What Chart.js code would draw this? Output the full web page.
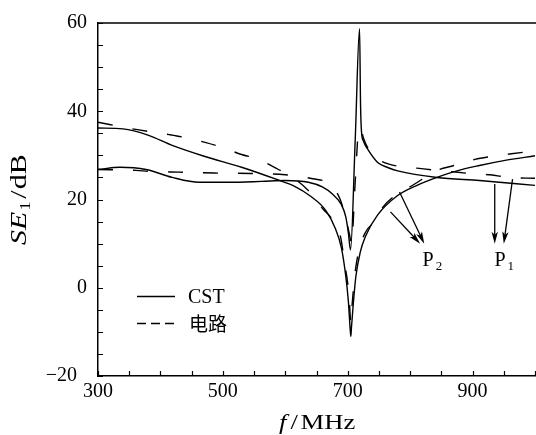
<!DOCTYPE html>
<html><head><meta charset="utf-8">
<style>
html,body{margin:0;padding:0;background:#fff;overflow:hidden;width:536px;height:435px}
#wrap{width:536px;height:435px;overflow:hidden;position:relative}
canvas{display:block}
</style>
<script src="https://cdn.jsdelivr.net/npm/chart.js@4.4.1/dist/chart.umd.min.js"></script>
</head><body><div id="wrap"><canvas id="c" width="539" height="435"></canvas></div>
<script>
// ---- axis settings ----
const xMin = 300, xMax = 1000, yMin = -20, yMax = 60;
const xTickValues = [300,350,400,450,500,550,600,650,700,750,800,850,900,950,1000];
const xLabelValues = [300,500,700,900];
const yTickValues = [-20,-15,-10,-5,0,5,10,15,20,25,30,35,40,45,50,55,60];
const yLabelValues = [-20,0,20,40,60];

// ---- P2 curves (deep dip) ----
const cstP2Freq = [300,340,380,420,470,530,585,615,640,665,680,690,697,701,704,705,706,709,713,720,728,748,780,811,843,875,911,950,1000];
const cstP2SE   = [36.2,36.0,34.6,32.2,29.8,27.3,24.6,23.0,20.8,17.5,13.5,9.0,2.5,-3,-9.5,-11,-9,-3.5,2.5,8,11.5,16.5,20.9,23.2,25.0,26.5,27.7,28.8,29.9];
const cirP2Freq = [300,355,414,441,473,499,530,557,589,612,642,660,675,689,695,700,703,705,707,711,718,729,743,756,776,806,843,870,904,928,959,1000];
const cirP2SE   = [37.5,36.0,34.7,34.0,32.9,31.8,30.2,29.1,26.8,25.0,21.3,17.9,15.5,11.2,5.5,1.0,-4,-8,-4,2.5,8.5,12.7,15.0,18.2,20.9,23.4,26.6,27.7,29.1,29.7,30.3,31.0];

// ---- P1 curves (dip + peak) ----
const cstP1Freq = [300,335,377,419,462,509,562,600,637,660,675,690,697,701,704.5,712,719,720.5,722,725,732,748,765,780,843,911,1000];
const cstP1SE   = [26.8,27.3,26.8,25.0,23.9,23.9,24.1,24.3,23.9,22.8,21.3,18.8,16,12.5,8.6,33.5,58.7,42,35.5,33.3,31.4,28.4,27.2,26.5,25.0,24.3,23.2];
const cirP1Freq = [300,361,382,430,486,545,600,644,671,688,698,703,706,712,718,721,725,735,750,766,811,860,904,928,959,1000];
const cirP1SE   = [26.8,26.6,26.4,26.2,26.0,25.9,25.6,24.7,23.5,20,15,12,10,24,36,36,34,31.0,29,28.0,27.1,26.4,25.8,25.6,25.0,24.8];

// ---- annotations (data units) ----
const arrowsP2 = [[783,21.7,822.6,10.0],[768.5,17.2,816,10.0]];
const arrowsP1 = [[935.5,23.5,935.5,10.0],[964,24.6,950,10.0]];
const labelP2 = [836,6.5];
const labelP1 = [951,6.5];

const legendItems = ['CST','电路'];

const SERIF = '"Liberation Serif", "DejaVu Serif", serif';
const pts = (xs, ys) => xs.map((x, i) => ({x, y: ys[i]}));

function line(label, xs, ys, dashed) {
  return {
    label, data: pts(xs, ys),
    borderColor: '#000', borderWidth: 1.4, pointRadius: 0,
    borderDash: dashed ? [15, 20] : [],
    cubicInterpolationMode: 'monotone', fill: false
  };
}

const decor = {
  id: 'decor',
  afterDraw(chart) {
    const {ctx, chartArea: a, scales: {x, y}} = chart;
    ctx.save();
    ctx.strokeStyle = '#000';
    ctx.fillStyle = '#000';
    // top border
    ctx.lineWidth = 1.5;
    ctx.beginPath(); ctx.moveTo(a.left, a.top); ctx.lineTo(a.right + 2, a.top); ctx.stroke();
    // inward ticks
    ctx.lineWidth = 1.2;
    ctx.beginPath();
    xTickValues.forEach(v => { const p = Math.round(x.getPixelForValue(v)) + 0.5; ctx.moveTo(p, a.bottom); ctx.lineTo(p, a.bottom - 5); });
    yTickValues.forEach(v => { const p = Math.round(y.getPixelForValue(v)) + 0.5; ctx.moveTo(a.left, p); ctx.lineTo(a.left + 5, p); });
    ctx.stroke();

    // arrows
    const arrow = (d) => {
      const x1 = x.getPixelForValue(d[0]), y1 = y.getPixelForValue(d[1]);
      const x2 = x.getPixelForValue(d[2]), y2 = y.getPixelForValue(d[3]);
      const ang = Math.atan2(y2 - y1, x2 - x1);
      const hl = 12, hw = 3.2;
      ctx.lineWidth = 1.3;
      ctx.beginPath(); ctx.moveTo(x1, y1);
      ctx.lineTo(x2 - Math.cos(ang) * hl * 0.7, y2 - Math.sin(ang) * hl * 0.7); ctx.stroke();
      ctx.beginPath();
      ctx.moveTo(x2, y2);
      ctx.lineTo(x2 - Math.cos(ang) * hl - Math.sin(ang) * hw, y2 - Math.sin(ang) * hl + Math.cos(ang) * hw);
      ctx.lineTo(x2 - Math.cos(ang) * hl * 0.75, y2 - Math.sin(ang) * hl * 0.75);
      ctx.lineTo(x2 - Math.cos(ang) * hl + Math.sin(ang) * hw, y2 - Math.sin(ang) * hl - Math.cos(ang) * hw);
      ctx.closePath(); ctx.fill();
    };
    arrowsP2.forEach(arrow); arrowsP1.forEach(arrow);

    // P labels
    const plabel = (pos, sub) => {
      const px = x.getPixelForValue(pos[0]), py = y.getPixelForValue(pos[1]);
      ctx.font = '20px ' + SERIF; ctx.textBaseline = 'alphabetic'; ctx.textAlign = 'left';
      const w = ctx.measureText('P').width;
      const x0 = px - 10;
      ctx.fillText('P', x0, py + 7);
      ctx.font = '13px ' + SERIF;
      ctx.fillText(sub, x0 + w + 2, py + 11);
    };
    plabel(labelP2, '2'); plabel(labelP1, '1');

    // legend
    ctx.lineWidth = 1.4;
    const lx = a.left + 39, lw = 38;
    ctx.setLineDash([]);
    ctx.beginPath(); ctx.moveTo(lx, 296.5); ctx.lineTo(lx + lw, 296.5); ctx.stroke();
    ctx.setLineDash([9, 5]);
    ctx.beginPath(); ctx.moveTo(lx, 323.5); ctx.lineTo(lx + lw, 323.5); ctx.stroke();
    ctx.setLineDash([]);
    ctx.font = '20px ' + SERIF;
    ctx.fillText(legendItems[0], lx + 51, 303);
    ctx.font = '19px "Noto Sans CJK SC", sans-serif';
    ctx.fillText(legendItems[1], lx + 52, 331);

    // x title: f / MHz (wide setting)
    ctx.save();
    ctx.translate(279, 429);
    ctx.scale(1.27, 1);
    ctx.font = 'italic 21px ' + SERIF;
    ctx.fillText('f', 0, 0);
    ctx.font = '21px ' + SERIF;
    ctx.fillText('/', 9, 0);
    ctx.fillText('MHz', 17, 0);
    ctx.restore();

    // y title: SE1 / dB (rotated)
    ctx.save();
    ctx.translate(26, 245);
    ctx.rotate(-Math.PI / 2);
    ctx.scale(1.3, 1);
    ctx.font = 'italic 23px ' + SERIF;
    ctx.fillText('SE', 0, 0);
    let w = ctx.measureText('SE').width;
    ctx.font = '14px ' + SERIF;
    ctx.fillText('1', w + 1, 4);
    w += 1 + ctx.measureText('1').width + 2;
    ctx.font = '23px ' + SERIF;
    ctx.fillText('/', w, 0);
    w += ctx.measureText('/').width + 1;
    ctx.fillText('dB', w, 0);
    ctx.restore();
    ctx.restore();
  }
};

new Chart(document.getElementById('c'), {
  type: 'line',
  data: {
    datasets: [
      line('CST P2', cstP2Freq, cstP2SE, false),
      line('电路 P2', cirP2Freq, cirP2SE, true),
      line('CST P1', cstP1Freq, cstP1SE, false),
      line('电路 P1', cirP1Freq, cirP1SE, true)
    ]
  },
  options: {
    responsive: false, animation: false, devicePixelRatio: 1,
    layout: {padding: {top: 19, right: 0, bottom: 0, left: 0}},
    plugins: {legend: {display: false}, tooltip: {enabled: false}},
    scales: {
      x: {
        type: 'linear', min: xMin, max: xMax,
        afterBuildTicks(s) { s.ticks = xTickValues.map(v => ({value: v})); },
        afterFit(s) { s.height = 59; },
        grid: {display: false, drawTicks: false},
        border: {display: true, color: '#000', width: 1.5},
        ticks: {
          autoSkip: false, maxRotation: 0, padding: 4, color: '#000',
          font: {family: SERIF, size: 20},
          callback: v => xLabelValues.includes(v) ? String(v) : ''
        }
      },
      y: {
        type: 'linear', min: yMin, max: yMax,
        afterBuildTicks(s) { s.ticks = yTickValues.map(v => ({value: v})); },
        afterFit(s) { s.width = 98; },
        grid: {display: false, drawTicks: false},
        border: {display: true, color: '#000', width: 1.5},
        ticks: {
          autoSkip: false, padding: 11, color: '#000',
          font: {family: SERIF, size: 20},
          callback: v => yLabelValues.includes(v) ? (v < 0 ? '\u2212' + Math.abs(v) + '\u2002' : String(v)) : ''
        }
      }
    }
  },
  plugins: [decor]
});
</script>
</body></html>
